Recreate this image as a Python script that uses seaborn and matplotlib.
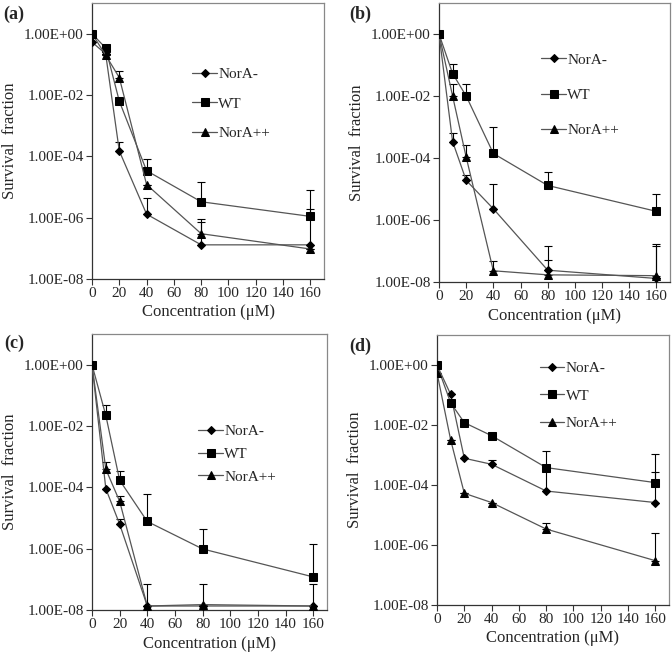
import numpy as np
import pandas as pd
import matplotlib
matplotlib.use('Agg')
import matplotlib.pyplot as plt
import seaborn as sns
from matplotlib.ticker import FixedLocator, FuncFormatter

conc = [0, 10, 20, 40, 80, 160]
strains = ["NorA-", "WT", "NorA++"]
panel_labels = ["(a)", "(b)", "(c)", "(d)"]
y_ticks = [1e-8, 1e-6, 1e-4, 1e-2, 1e0]

# (a)
a_nora_minus = [0.53, 0.22, 1.5e-4, 1.3e-6, 1.3e-7, 1.3e-7]
a_nora_minus_top = [None, None, 3e-4, 4.5e-6, 7e-7, 1.9e-6]
a_wt = [1.0, 0.34, 6.3e-3, 3.4e-5, 3.3e-6, 1.1e-6]
a_wt_top = [None, None, None, 8e-5, 1.5e-5, 8e-6]
a_nora_pp = [1.0, 0.20, 0.037, 1.2e-5, 3e-7, 9.5e-8]
a_nora_pp_top = [None, None, 0.059, None, 9e-7, None]

# (b)
b_nora_minus = [1.0, 3.4e-4, 1.9e-5, 2.3e-6, 2.4e-8, 1.3e-8]
b_nora_minus_top = [None, 6.6e-4, 2.9e-5, 1.5e-5, 1.5e-7, 1.7e-7]
b_wt = [1.0, 0.053, 0.01, 1.4e-4, 1.3e-5, 1.9e-6]
b_wt_top = [None, 0.11, 0.025, 1.0e-3, 3.5e-5, 7e-6]
b_nora_pp = [1.0, 0.01, 1.07e-4, 2.3e-8, 1.7e-8, 1.6e-8]
b_nora_pp_top = [None, 0.025, 2.6e-4, 4.9e-8, 5e-8, 1.4e-7]

# (c)
c_nora_minus = [1.0, 9e-5, 6.3e-6, 1.35e-8, 1.35e-8, 1.35e-8]
c_nora_minus_top = [None, None, 9.3e-6, 7e-8, 7e-8, 7e-8]
c_wt = [1.0, 0.022, 1.7e-4, 7.7e-6, 9.8e-7, 1.2e-7]
c_wt_top = [None, 0.048, 3.5e-4, 5.9e-5, 4.4e-6, 1.4e-6]
c_nora_pp = [1.0, 3.9e-4, 3.5e-5, 1.35e-8, 1.5e-8, 1.35e-8]
c_nora_pp_top = [None, 6.5e-4, 5.1e-5, None, None, None]

# (d)
d_nora_minus = [1.0, 0.105, 7.8e-4, 4.9e-4, 6.3e-5, 2.6e-5]
d_nora_minus_top = [None, None, None, 6.8e-4, 4e-4, 2.8e-4]
d_wt = [1.0, 0.055, 0.012, 4.4e-3, 3.8e-4, 1.2e-4]
d_wt_top = [None, None, None, None, 1.4e-3, 1.1e-3]
d_nora_pp = [0.55, 3.2e-3, 5.3e-5, 2.6e-5, 3.4e-6, 3e-7]
d_nora_pp_top = [None, None, None, None, 5.6e-6, 2.5e-6]

panels = [
    [(a_nora_minus, a_nora_minus_top), (a_wt, a_wt_top), (a_nora_pp, a_nora_pp_top)],
    [(b_nora_minus, b_nora_minus_top), (b_wt, b_wt_top), (b_nora_pp, b_nora_pp_top)],
    [(c_nora_minus, c_nora_minus_top), (c_wt, c_wt_top), (c_nora_pp, c_nora_pp_top)],
    [(d_nora_minus, d_nora_minus_top), (d_wt, d_wt_top), (d_nora_pp, d_nora_pp_top)],
]

sns.set_style('ticks')
plt.rcParams['font.family'] = ['Liberation Serif', 'DejaVu Serif']

fig = plt.figure(figsize=(6.72, 6.59), dpi=100)

W, H = 672, 659
# axes boxes in pixels: left, top, right, bottom
boxes = [(92, 3, 324, 279), (439, 3, 670, 282), (92, 334, 327, 610), (437, 335, 669, 605)]
legend_pos = [(0.40, 0.635, 1.05), (0.41, 0.67, 1.4), (0.42, 0.565, 0.6), (0.41, 0.775, 0.9)]
label_pos = [(3, 14), (349, 14), (4, 343), (349, 346)]
markers = ['D', 's', '^']
msizes = [4.2, 5.8, 6.2]

for i, (l, t, r, b) in enumerate(boxes):
    ax = fig.add_axes([l / W, (H - b) / H, (r - l) / W, (b - t) / H])
    ax.set_yscale('log')
    for j, (vals, tops) in enumerate(panels[i]):
        vals = np.array(vals, dtype=float)
        up = np.array([v if tp is None else tp for v, tp in zip(vals, tops)], dtype=float)
        ax.errorbar(conc, vals, yerr=[np.zeros_like(vals), up - vals], fmt='none',
                    ecolor='black', elinewidth=0.8, capsize=2.8, capthick=0.8, zorder=2)
        df = pd.DataFrame({'conc': conc, 'value': vals})
        sns.lineplot(data=df, x='conc', y='value', ax=ax, color='#555555', linewidth=0.9,
                     marker=markers[j], markersize=msizes[j], markerfacecolor='black',
                     markeredgecolor='black', label=strains[j], zorder=3)
    ax.set_xlim(0, 170)
    ax.set_ylim(1e-8, 10)
    ax.xaxis.set_major_locator(FixedLocator(list(range(0, 161, 20))))
    ax.yaxis.set_major_locator(FixedLocator(y_ticks))
    ax.yaxis.set_minor_locator(FixedLocator([]))
    ax.yaxis.set_major_formatter(FuncFormatter(lambda v, p: f"{v:.2E}"))
    ax.tick_params(axis='both', labelsize=11, length=4, width=0.8, direction='out', pad=2,
                   color='#333333')
    for s in ['left', 'bottom']:
        ax.spines[s].set_color('#333333')
        ax.spines[s].set_linewidth(0.9)
    for s in ['top', 'right']:
        ax.spines[s].set_visible(True)
        ax.spines[s].set_color('#888888')
        ax.spines[s].set_linewidth(0.9)
    ax.set_xlabel('Concentration (μM)', fontsize=12, labelpad=3)
    ax.set_ylabel('Survival  fraction', fontsize=12, labelpad=4)
    lx, ly, lsp = legend_pos[i]
    ax.legend(loc='center left', bbox_to_anchor=(lx, ly), frameon=False, fontsize=11,
              handlelength=1.6, handletextpad=0.1, labelspacing=lsp, borderpad=0)
    px, py = label_pos[i]
    fig.text(px / W, 1 - py / H, panel_labels[i], fontsize=13, fontweight='bold',
             ha='left', va='center')

fig.savefig('out.png', dpi=100)
